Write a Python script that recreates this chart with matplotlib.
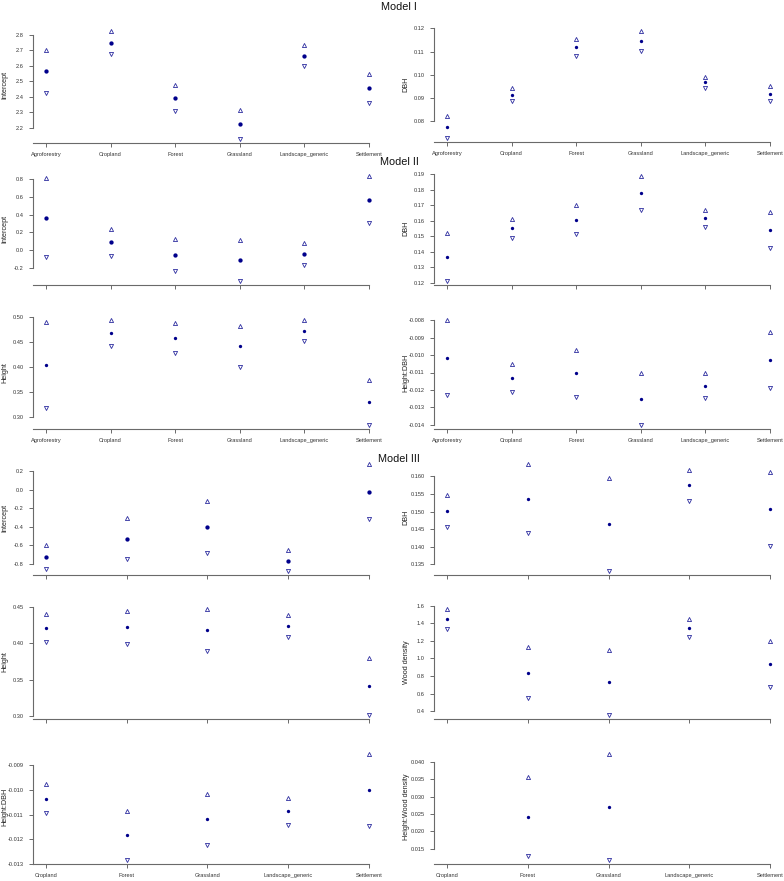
import numpy as np
import matplotlib
matplotlib.use("Agg")
import matplotlib.pyplot as plt
from matplotlib.ticker import FormatStrFormatter

plt.rcParams['font.family'] = ['Liberation Sans', 'DejaVu Sans']
plt.rcParams['axes.unicode_minus'] = False

nan = np.nan
cats6 = ['Agroforestry', 'Cropland', 'Forest', 'Grassland', 'Landscape_generic', 'Settlement']
cats5 = ['Cropland', 'Forest', 'Grassland', 'Landscape_generic', 'Settlement']

# Model I
m1_int = [2.565, 2.751, 2.392, 2.222, 2.667, 2.454]
m1_int_lo = [2.426, 2.680, 2.310, 2.129, 2.601, 2.361]
m1_int_hi = [2.700, 2.824, 2.474, 2.315, 2.734, 2.547]
m1_dbh = [0.0777, 0.0915, 0.1120, 0.1147, 0.0968, 0.0920]
m1_dbh_lo = [0.0730, 0.0889, 0.1083, 0.1105, 0.0942, 0.0886]
m1_dbh_hi = [0.0825, 0.0942, 0.1156, 0.1188, 0.0993, 0.0953]

# Model II
m2_int = [0.358, 0.086, -0.052, -0.116, -0.045, 0.568]
m2_int_lo = [-0.082, -0.064, -0.232, -0.348, -0.172, 0.310]
m2_int_hi = [0.811, 0.240, 0.127, 0.112, 0.082, 0.834]
m2_dbh = [0.1367, 0.1551, 0.1607, 0.1778, 0.1615, 0.1538]
m2_dbh_lo = [0.1213, 0.1487, 0.1515, 0.1671, 0.1558, 0.1423]
m2_dbh_hi = [0.1521, 0.1613, 0.1701, 0.1887, 0.1671, 0.1654]
m2_h = [0.4033, 0.4671, 0.4579, 0.4408, 0.4717, 0.3296]
m2_h_lo = [0.3178, 0.4414, 0.4276, 0.3993, 0.4513, 0.2849]
m2_h_hi = [0.4895, 0.4928, 0.4882, 0.4822, 0.4928, 0.3743]
m2_hd = [-0.01015, -0.01131, -0.01104, -0.01250, -0.01176, -0.01028]
m2_hd_lo = [-0.01229, -0.01210, -0.01239, -0.01400, -0.01246, -0.01191]
m2_hd_hi = [-0.00800, -0.01051, -0.00973, -0.01104, -0.01104, -0.00865]

# Model III
m3_int = [-0.728, -0.527, -0.404, -0.764, -0.027]
m3_int_lo = [-0.850, -0.746, -0.685, -0.872, -0.318]
m3_int_hi = [-0.595, -0.307, -0.127, -0.649, 0.272]
m3_dbh = [0.1502, 0.1536, 0.1464, 0.1574, 0.1506]
m3_dbh_lo = [0.1456, 0.1438, 0.1332, 0.1531, 0.1402]
m3_dbh_hi = [0.1548, 0.1634, 0.1596, 0.1618, 0.1611]
m3_h = [0.4210, 0.4219, 0.4187, 0.4238, 0.3414]
m3_h_lo = [0.4022, 0.3989, 0.3902, 0.4081, 0.3023]
m3_h_hi = [0.4399, 0.4445, 0.4468, 0.4394, 0.3805]
m3_wd = [1.448, 0.841, 0.731, 1.350, 0.939]
m3_wd_lo = [1.334, 0.552, 0.362, 1.247, 0.677]
m3_wd_hi = [1.558, 1.125, 1.099, 1.452, 1.201]
m3_hd = [-0.01037, -0.01185, -0.01120, -0.01087, -0.01000]
m3_hd_lo = [-0.01095, -0.01284, -0.01222, -0.01143, -0.01146]
m3_hd_hi = [-0.00976, -0.01084, -0.01016, -0.01034, -0.00855]
m3_hwd = [nan, 0.0243, 0.0271, nan, nan]
m3_hwd_lo = [nan, 0.0130, 0.0118, nan, nan]
m3_hwd_hi = [nan, 0.0357, 0.0423, nan, nan]

W, H = 784, 881
fig = plt.figure(figsize=(W / 100, H / 100), dpi=100)
blue = '#00008B'
tri = '#2e2ea0'
grey = '#6a6a6a'


def panel(x0, top, bottom, cats, est, lo, hi, ylabel, step, dec, big=False, xlab=True):
    ax = fig.add_axes([x0 / W, 1 - bottom / H, 349 / W, (bottom - top) / H])
    n = len(cats)
    x = np.arange(1, n + 1)
    vals = np.array(est + lo + hi, float)
    vmin, vmax = np.nanmin(vals), np.nanmax(vals)
    pad = 0.04 * (vmax - vmin)
    y0, y1 = vmin - pad, vmax + pad
    ax.set_ylim(y0, y1)
    ax.set_xlim(1 - 0.04 * (n - 1), n + 0.04 * (n - 1))

    ax.plot(x, hi, ls='none', marker='^', ms=3.0, mfc='none', mec=tri, mew=0.6)
    ax.plot(x, lo, ls='none', marker='v', ms=3.0, mfc='none', mec=tri, mew=0.6)
    ax.plot(x, est, ls='none', marker='o', ms=3.1 if big else 2.4, color=blue, mew=0)

    k0 = int(np.ceil(y0 / step - 1e-9))
    k1 = int(np.floor(y1 / step + 1e-9))
    ticks = np.array([k * step for k in range(k0, k1 + 1)])
    ax.set_yticks(ticks)
    ax.yaxis.set_major_formatter(FormatStrFormatter('%.' + str(dec) + 'f'))
    ax.set_xticks(x)
    ax.set_xticklabels(cats if xlab else [''] * n)

    for s in ['top', 'right']:
        ax.spines[s].set_visible(False)
    ax.spines['left'].set_bounds(ticks[0], ticks[-1])
    ax.spines['bottom'].set_bounds(ax.get_xlim()[0], n)
    for s in ['left', 'bottom']:
        ax.spines[s].set_color(grey)
        ax.spines[s].set_linewidth(0.8)
    ax.tick_params(direction='out', length=3, width=0.7, color=grey,
                   labelsize=4.1, labelcolor='#333333', pad=3.8)
    ax.set_ylabel(ylabel, fontsize=5.2, color='#222222')
    ax.yaxis.set_label_coords(-0.07, 0.5)
    ax.patch.set_alpha(0)
    return ax


L, R = 33, 434

panel(L, 27, 143, cats6, m1_int, m1_int_lo, m1_int_hi, 'Intercept', 0.1, 1, big=True)
panel(R, 27, 142, cats6, m1_dbh, m1_dbh_lo, m1_dbh_hi, 'DBH', 0.01, 2)

panel(L, 172, 285, cats6, m2_int, m2_int_lo, m2_int_hi, 'Intercept', 0.2, 1, big=True, xlab=False)
panel(R, 172, 285, cats6, m2_dbh, m2_dbh_lo, m2_dbh_hi, 'DBH', 0.01, 2, xlab=False)
panel(L, 316, 429, cats6, m2_h, m2_h_lo, m2_h_hi, 'Height', 0.05, 2)
panel(R, 316, 429, cats6, m2_hd, m2_hd_lo, m2_hd_hi, 'Height:DBH', 0.001, 3)

panel(L, 460, 575, cats5, m3_int, m3_int_lo, m3_int_hi, 'Intercept', 0.2, 1, big=True, xlab=False)
panel(R, 460, 575, cats5, m3_dbh, m3_dbh_lo, m3_dbh_hi, 'DBH', 0.005, 3, xlab=False)
panel(L, 605, 719, cats5, m3_h, m3_h_lo, m3_h_hi, 'Height', 0.05, 2, xlab=False)
panel(R, 605, 719, cats5, m3_wd, m3_wd_lo, m3_wd_hi, 'Wood density', 0.2, 1, xlab=False)
panel(L, 750, 864, cats5, m3_hd, m3_hd_lo, m3_hd_hi, 'Height:DBH', 0.001, 3)
panel(R, 750, 864, cats5, m3_hwd, m3_hwd_lo, m3_hwd_hi, 'Height:Wood density', 0.005, 3)

for label, ypx in [('Model I', 7), ('Model II', 162), ('Model III', 459)]:
    fig.text(399 / W, 1 - ypx / H, label, ha='center', va='center', fontsize=7.8, color='#111111')

fig.savefig('out.png', dpi=100)
